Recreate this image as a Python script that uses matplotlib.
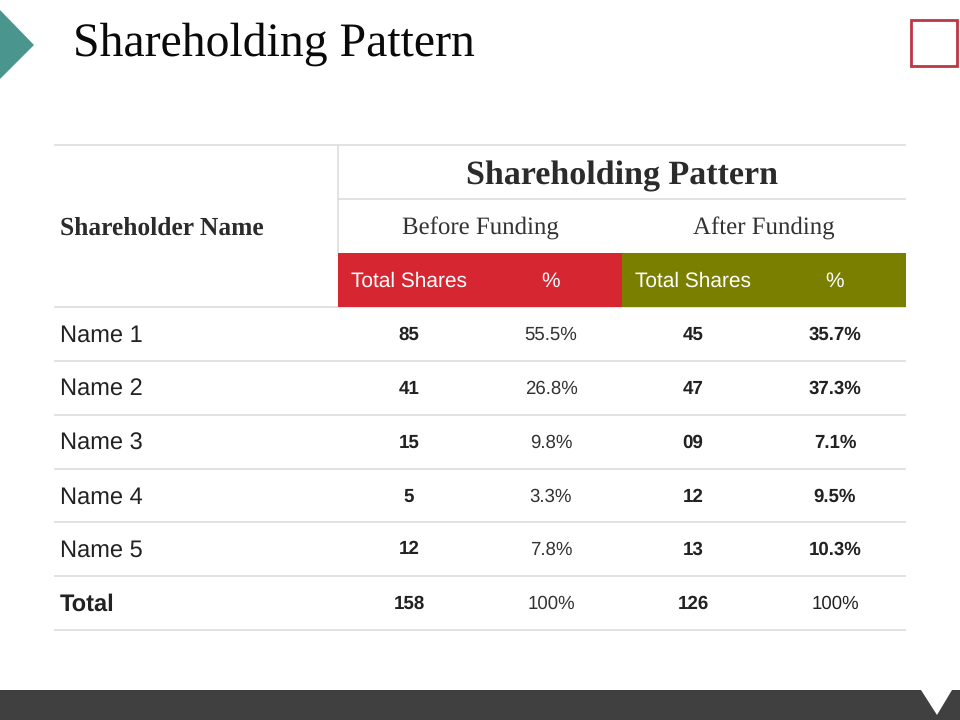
import matplotlib
matplotlib.use("Agg")
import matplotlib.pyplot as plt
from matplotlib.patches import Rectangle, Polygon

plt.rcParams["text.hinting"] = "no_hinting"

names = ["Name 1", "Name 2", "Name 3", "Name 4", "Name 5", "Total"]
before_shares = ["85", "41", "15", "5", "12", "158"]
before_pct = ["55.5%", "26.8%", "9.8%", "3.3%", "7.8%", "100%"]
after_shares = ["45", "47", "09", "12", "13", "126"]
after_pct = ["35.7%", "37.3%", "7.1%", "9.5%", "10.3%", "100%"]

SANS = ["Liberation Sans", "DejaVu Sans"]
SERIF = "Liberation Serif"

fig = plt.figure(figsize=(9.6, 7.2), dpi=100)
ax = fig.add_axes([0, 0, 1, 1])
ax.set_xlim(0, 960)
ax.set_ylim(720, 0)
ax.axis("off")

# decorations
ax.add_patch(Polygon([(0, 10), (34, 45), (0, 79)], closed=True, fc="#4a968f", ec="none"))
ax.add_patch(Rectangle((911, 20), 46, 46, fc="white", ec="#bd3644", lw=2.0))
ax.add_patch(Rectangle((0, 690), 960, 30, fc="#404040", ec="none"))
ax.add_patch(Polygon([(921, 690), (952, 690), (937, 715)], closed=True, fc="white", ec="none"))
ax.text(73, 56, "Shareholding Pattern", fontsize=34.4, family=SERIF, va="baseline", ha="left", color="#0a0a0a")

# table geometry
L, M, MID, R = 54, 338, 622, 906
line = "#dddddd"


def rule(xs, ys):
    ax.plot(xs, ys, color=line, lw=1.2, solid_capstyle="butt")


ax.add_patch(Rectangle((M, 253), MID - M, 54, fc="#d62631", ec="none", zorder=3))
ax.add_patch(Rectangle((MID, 253), R - MID, 54, fc="#7a7f00", ec="none", zorder=3))
rule([L, R], [145, 145])
rule([M, R], [199, 199])
rule([M, M], [145, 253])
rows_y = [307, 361, 415, 469, 522, 576, 630]
for y in rows_y:
    rule([L, R], [y, y])

ax.text(622, 184, "Shareholding Pattern", fontsize=24.5, fontweight="bold", family=SERIF, ha="center", va="baseline", color="#2b2b2b")
ax.text(60, 235, "Shareholder Name", fontsize=18.4, fontweight="bold", family=SERIF, ha="left", va="baseline", color="#2b2b2b")
ax.text(480, 235, "Before Funding", fontsize=17.9, family=SERIF, ha="center", va="baseline", color="#333333")
ax.text(764, 235, "After Funding", fontsize=17.9, family=SERIF, ha="center", va="baseline", color="#333333")

cols = [409, 551, 693, 835]
for x, s in zip(cols, ["Total Shares", "%", "Total Shares", "%"]):
    ax.text(x, 287, s, fontsize=15, family=SANS, color="white", ha="center", va="baseline", zorder=4)

for i, n in enumerate(names):
    top = rows_y[i]
    is_total = n == "Total"
    ax.text(60, top + 34.5, n, fontsize=17, family=SANS, fontweight="bold" if is_total else "normal", color="#222222", ha="left", va="baseline")
    ax.text(cols[0], top + 32.5, before_shares[i], fontsize=13.5, family=SANS, fontweight="bold", color="#222222", ha="center", va="baseline")
    ax.text(cols[1], top + 32.5, before_pct[i], fontsize=13.4, family=SANS, color="#333333", ha="center", va="baseline")
    ax.text(cols[2], top + 32.5, after_shares[i], fontsize=13.5, family=SANS, fontweight="bold", color="#222222", ha="center", va="baseline")
    ax.text(cols[3], top + 32.5, after_pct[i], fontsize=13.4, family=SANS, fontweight="normal" if is_total else "bold", color="#222222", ha="center", va="baseline")

fig.savefig("out.png", dpi=100)
